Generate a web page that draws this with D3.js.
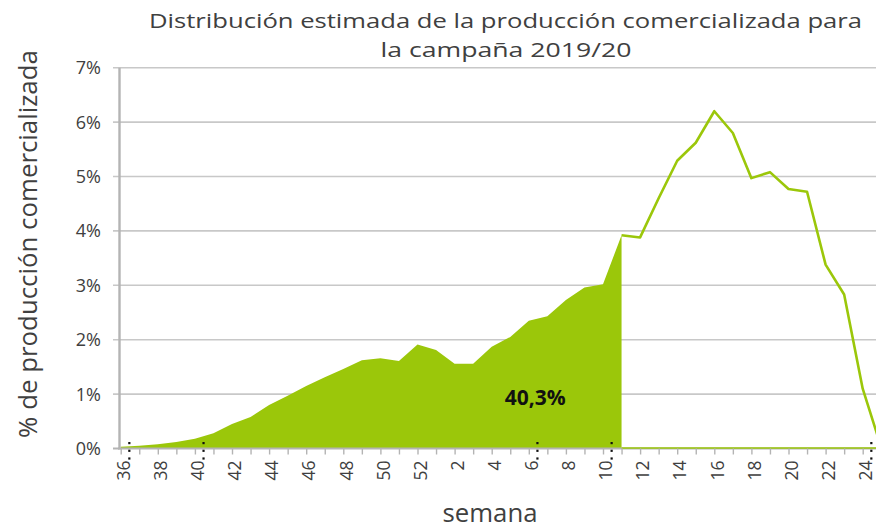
<!DOCTYPE html>
<html>
<head>
<meta charset="utf-8">
<script src="https://cdn.jsdelivr.net/npm/d3@7"></script>
<style>
  body { margin: 0; background: #fff; }
  svg { display: block; }
  text { font-family: "Open Sans", "DejaVu Sans", sans-serif; fill: #404040; }
</style>
</head>
<body>
<svg width="876" height="529"></svg>
<script>
// weeks of the 2019/20 campaign (36..52, then 1..25)
const semanas = [36, 37, 38, 39, 40, 41, 42, 43, 44, 45, 46, 47, 48, 49, 50, 51, 52,
  1, 2, 3, 4, 5, 6, 7, 8, 9, 10, 11, 12, 13, 14, 15, 16, 17, 18, 19, 20, 21, 22, 23, 24, 25];

// % of marketed production per week
const porcentaje = [0.03, 0.05, 0.08, 0.12, 0.18, 0.28, 0.45, 0.58, 0.80, 0.97, 1.15, 1.31, 1.46, 1.62, 1.66, 1.61, 1.91,
  1.81, 1.56, 1.56, 1.87, 2.05, 2.35, 2.43, 2.73, 2.96, 3.02, 3.92, 3.88, 4.60, 5.29, 5.62, 6.20, 5.80, 4.97, 5.08, 4.77, 4.72, 3.38, 2.83, 1.10, 0.02];

// last week of the filled (already marketed) part
const semanaCorte = 11;
const acumulado = "40,3%";

const yTicks = [0, 1, 2, 3, 4, 5, 6, 7];
const marcasSemana = [36, 40, 6, 10, 24];

const green = "#9bc70a";
const grid = "#c8c8c8";
const axisGrey = "#b4b4b4";

const svg = d3.select("svg");
const width = 876;

const x = d3.scalePoint()
  .domain(semanas)
  .range([120.7, 881.25]);
const step = x.step();

const y = d3.scaleLinear()
  .domain([0, 7])
  .range([448.5, 67.7]);

const data = semanas.map((s, i) => ({ semana: s, valor: porcentaje[i], i: i }));
const corte = semanas.indexOf(semanaCorte);

// gridlines
svg.append("g")
  .selectAll("line")
  .data(yTicks.filter(d => d > 0))
  .enter()
  .append("line")
  .attr("x1", 113)
  .attr("x2", width)
  .attr("y1", d => y(d))
  .attr("y2", d => y(d))
  .attr("stroke", grid)
  .attr("stroke-width", 1.6);

// filled area up to the cut week
const area = d3.area()
  .x(d => x(d.semana))
  .y0(y(0))
  .y1(d => y(d.valor));

svg.append("path")
  .datum(data.filter(d => d.i <= corte))
  .attr("d", area)
  .attr("fill", green);

// x axis line
svg.append("line")
  .attr("x1", 118)
  .attr("x2", width)
  .attr("y1", y(0))
  .attr("y2", y(0))
  .attr("stroke", axisGrey)
  .attr("stroke-width", 2);

// forecast line after the cut week
const line = d3.line()
  .x(d => x(d.semana))
  .y(d => y(d.valor));

svg.append("path")
  .datum(data.filter(d => d.i >= corte))
  .attr("d", line)
  .attr("fill", "none")
  .attr("stroke", green)
  .attr("stroke-width", 2.6)
  .attr("stroke-linejoin", "round");

// green zero line for the rest of the area series
svg.append("line")
  .attr("x1", x(semanaCorte))
  .attr("x2", x(semanas[semanas.length - 1]))
  .attr("y1", y(0) - 0.5)
  .attr("y2", y(0) - 0.5)
  .attr("stroke", green)
  .attr("stroke-width", 1.6);

// y axis
svg.append("line")
  .attr("x1", 119.5)
  .attr("x2", 119.5)
  .attr("y1", y(7))
  .attr("y2", y(0) + 1)
  .attr("stroke", axisGrey)
  .attr("stroke-width", 2.4);

svg.append("line")
  .attr("x1", 113)
  .attr("x2", 119)
  .attr("y1", y(0))
  .attr("y2", y(0))
  .attr("stroke", axisGrey)
  .attr("stroke-width", 2);

svg.append("g")
  .selectAll("text")
  .data(yTicks)
  .enter()
  .append("text")
  .attr("x", 101)
  .attr("y", d => y(d))
  .attr("dy", "0.36em")
  .attr("text-anchor", "end")
  .attr("font-size", 18)
  .text(d => d + "%");

// x axis ticks and labels
const xAxis = d3.axisBottom(x)
  .tickSizeInner(6)
  .tickSizeOuter(0)
  .tickFormat((d, i) => i % 2 === 0 ? d : "");

const gx = svg.append("g")
  .attr("transform", `translate(0,${y(0)})`)
  .call(xAxis);
gx.select(".domain").remove();
gx.selectAll(".tick line")
  .attr("stroke", axisGrey)
  .attr("stroke-width", 1.4);
gx.selectAll(".tick text")
  .attr("font-size", 17.5)
  .attr("font-family", "\"Open Sans\", sans-serif")
  .attr("fill", "#404040")
  .attr("text-anchor", "end")
  .attr("transform", "rotate(-90)")
  .attr("x", -12)
  .attr("y", 0)
  .attr("dy", "0.5em");

// small dotted markers
svg.append("g")
  .selectAll("g")
  .data(marcasSemana)
  .enter()
  .append("g")
  .selectAll("rect")
  .data(d => [0, 1, 2].map(k => ({ s: d, k: k })))
  .enter()
  .append("rect")
  .attr("x", d => x(d.s) + step * 0.46 - 1)
  .attr("y", d => y(0) - 6.5 + d.k * 7.7)
  .attr("width", 2.2)
  .attr("height", 2.2)
  .attr("fill", "#111");

// cumulative label
svg.append("text")
  .attr("x", x(6) + step * 0.35)
  .attr("y", 405)
  .attr("text-anchor", "middle")
  .attr("font-family", "\"Liberation Sans\", Arial, sans-serif")
  .attr("font-weight", "bold")
  .attr("font-size", 21)
  .style("fill", "#111")
  .text(acumulado);

// scale a text so that it spans the given width
function fitWidth(sel, target) {
  const size = +sel.attr("font-size");
  const len = sel.node().getComputedTextLength();
  sel.attr("font-size", size * target / len);
  return size * target / len;
}

// titles
svg.append("text")
  .attr("x", 505.5)
  .attr("y", 28)
  .attr("text-anchor", "middle")
  .attr("font-size", 20)
  .attr("textLength", 713)
  .attr("lengthAdjust", "spacingAndGlyphs")
  .text("Distribución estimada de la producción comercializada para");

svg.append("text")
  .attr("x", 506)
  .attr("y", 57)
  .attr("text-anchor", "middle")
  .attr("font-size", 20)
  .attr("textLength", 251)
  .attr("lengthAdjust", "spacingAndGlyphs")
  .text("la campaña 2019/20");

const yt = svg.append("text")
  .attr("transform", "translate(37,244) rotate(-90)")
  .attr("text-anchor", "middle")
  .attr("font-size", 21)
  .text("% de producción comercializada");
fitWidth(yt, 388);

const xt = svg.append("text")
  .attr("x", 490)
  .attr("y", 522)
  .attr("text-anchor", "middle")
  .attr("font-size", 20)
  .text("semana");
fitWidth(xt, 95);
</script>
</body>
</html>
